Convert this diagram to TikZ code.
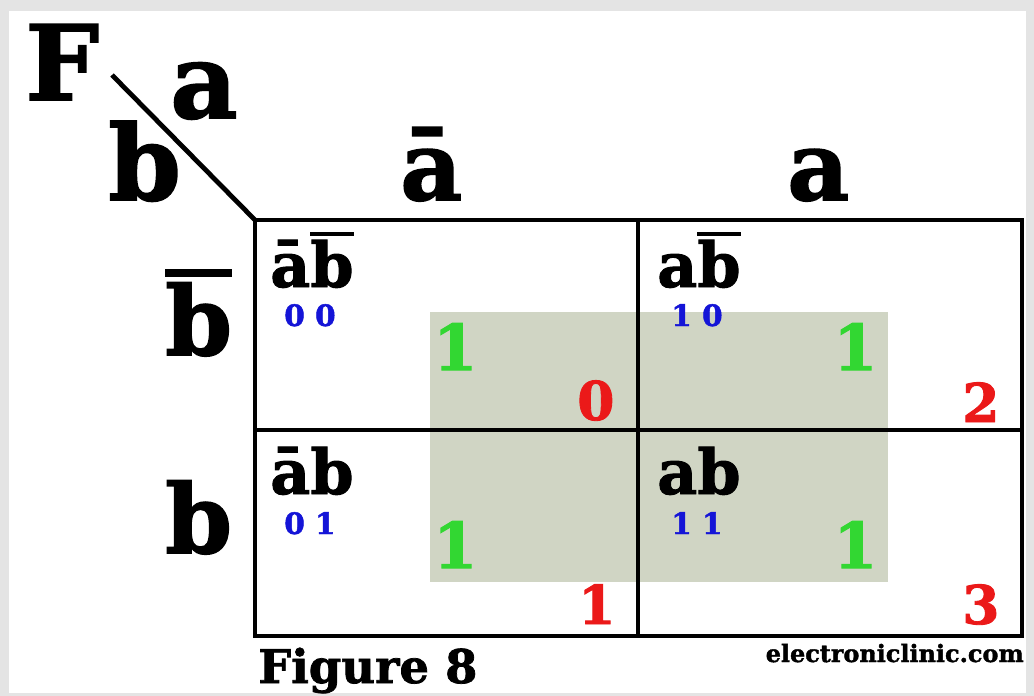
\documentclass[tikz,border=0pt]{standalone}
\usepackage{fontspec}
\setmainfont{DejaVu Serif}[BoldFeatures={FakeBold=1.6}]
\definecolor{framegray}{RGB}{228,228,228}
\definecolor{groupfill}{RGB}{208,213,196}
\definecolor{bitblue}{RGB}{20,20,215}
\definecolor{onegreen}{RGB}{50,215,50}
\definecolor{idxred}{RGB}{235,25,25}
\newcommand{\topbar}[1]{\setbox0\hbox{#1}\rlap{\raisebox{\dimexpr\ht0+0.06em\relax}{\rule{\wd0}{0.075em}}}\box0}

\begin{document}
\begin{tikzpicture}[x=0.025cm, y=-0.025cm,
    gridline/.style={line width=3.4pt},
    lbl/.style={inner sep=0pt, anchor=base west},
    huge/.style={lbl, font=\fontsize{74}{80}\selectfont\bfseries},
    head/.style={lbl, font=\fontsize{68}{72}\selectfont\bfseries},
    cell/.style={lbl, font=\fontsize{44}{48}\selectfont\bfseries},
    bits/.style={lbl, text=bitblue, font=\fontsize{21}{23}\selectfont\bfseries},
    one/.style={lbl, text=onegreen, font=\fontsize{45}{48}\selectfont\bfseries},
    idx/.style={lbl, text=idxred, font=\fontsize{38}{40}\selectfont\bfseries}]
    % frame and group
    \fill[framegray] (0,0) rectangle (1034,696);
    \fill[white] (9,11) rectangle (1026,693);
    \fill[groupfill] (430,312) rectangle (888,582);
    % grid
    \coordinate (g00) at (255,220);
    \coordinate (g10) at (638,220);
    \coordinate (g20) at (1022,220);
    \coordinate (g01) at (255,430);
    \coordinate (g21) at (1022,430);
    \coordinate (g02) at (255,636);
    \coordinate (g12) at (638,636);
    \coordinate (g22) at (1022,636);
    \coordinate (diagtop) at (112,75);
    \draw[gridline] (g00) rectangle (g22);
    \draw[gridline] (g10) -- (g12);
    \draw[gridline] (g01) -- (g21);
    \draw[gridline] (diagtop) -- (g00);
    % corner
    \node[huge] (fname) at (25,100) {F};
    \node[huge] (cornera) at (170,118) {a};
    \node[huge] (cornerb) at (108,200) {b};
    % headers
    \node[head] (colnota) at (400,200) {ā};
    \node[head] (cola) at (787,200) {a};
    \node[head] (rownotb) at (165,355) {\topbar{b}};
    \node[head] (rowb) at (165,553) {b};
    % cells
    \node[cell] (m0) at (270,287) {ā\topbar{b}};
    \node[bits] (m0bits) at (284,326) {0 0};
    \node[one] (m0val) at (433,370) {1};
    \node[idx] (m0idx) at (577,420) {0};
    \node[cell] (m2) at (657,287) {a\topbar{b}};
    \node[bits] (m2bits) at (671,326) {1 0};
    \node[one] (m2val) at (833,370) {1};
    \node[idx] (m2idx) at (962,422) {2};
    \node[cell] (m1) at (270,494) {āb};
    \node[bits] (m1bits) at (284,534) {0 1};
    \node[one] (m1val) at (433,568) {1};
    \node[idx] (m1idx) at (578,624) {1};
    \node[cell] (m3) at (657,494) {ab};
    \node[bits] (m3bits) at (671,534) {1 1};
    \node[one] (m3val) at (833,568) {1};
    \node[idx] (m3idx) at (962,624) {3};
    % captions
    \node[lbl, font=\fontsize{33}{36}\selectfont\bfseries] (caption) at (258,683) {Figure 8};
    \node[lbl, anchor=base east, font=\fontsize{17}{19}\selectfont\bfseries] (site) at (1024,662) {electroniclinic.com};
\end{tikzpicture}
\end{document}
